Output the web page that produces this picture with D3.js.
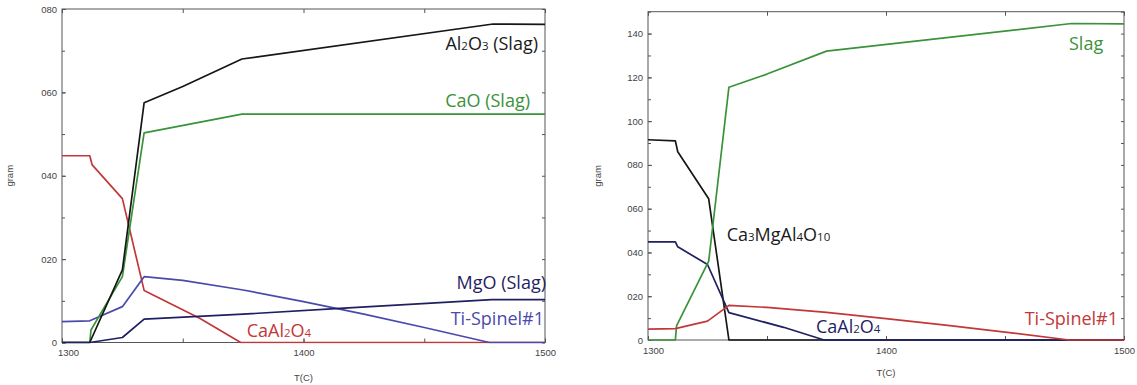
<!DOCTYPE html>
<html>
<head>
<meta charset="utf-8">
<script src="https://cdn.jsdelivr.net/npm/d3@7"></script>
<style>
  html, body { margin: 0; padding: 0; background: #fff; }
  svg { display: block; }
  .tick text { font-family: "Liberation Sans", Arial, sans-serif; font-size: 9.5px; fill: #444; }
  .tick line { stroke: #555; }
  .lbl { font-family: "Open Sans", "Noto Sans", sans-serif; font-size: 18px; }
  .axis-title { font-family: "Liberation Sans", Arial, sans-serif; font-size: 9.5px; fill: #444; }
</style>
</head>
<body>
<svg id="chart" width="1137" height="385"></svg>
<script>
// ---- Left panel: slag components and solid phases, gram vs T(C) ----
const tempAl2O3   = [1300, 1311.5, 1325, 1334, 1350, 1374.5, 1478.5, 1500];
const al2o3Slag   = [0, 0, 17.4, 57.5, 61.4, 68.0, 76.4, 76.3];

const tempCaO     = [1300, 1311.5, 1312, 1325, 1334, 1374.5, 1500];
const caoSlag     = [0, 0, 3.0, 15.8, 50.3, 54.8, 54.8];

const tempMgO     = [1300, 1311.5, 1325, 1334, 1375, 1415, 1478, 1500];
const mgoSlag     = [0, 0, 1.2, 5.6, 6.8, 8.2, 10.3, 10.3];

const tempCaAl2O4 = [1300, 1311.5, 1312.5, 1325, 1334, 1357, 1374, 1500];
const caAl2O4     = [44.8, 44.8, 42.6, 34.5, 12.5, 5.8, 0, 0];

const tempSpinel  = [1300, 1311.5, 1325, 1334, 1350, 1375, 1400, 1425, 1450, 1477, 1500];
const tiSpinel    = [5.0, 5.2, 8.6, 15.8, 14.9, 12.6, 9.8, 6.8, 3.6, 0, 0];

// ---- Right panel: phase amounts, gram vs T(C) ----
const tempSlag    = [1300, 1311.5, 1312, 1325.5, 1334, 1350, 1375, 1478, 1500];
const slagTotal   = [0, 0, 6.5, 36.0, 115.5, 121.5, 132.0, 144.6, 144.4];

const tempCa3     = [1300, 1311.5, 1312.5, 1325.5, 1334, 1500];
const ca3MgAl4O10 = [91.5, 91.0, 86.0, 64.5, 0, 0];

// ---- Axis ticks ----
const xTickVals     = [1300, 1400, 1500];
const xTickLabels   = ["1300", "1400", "1500"];
const xMinorVals    = [1300, 1350, 1400, 1450, 1500];
const leftYVals     = [0, 20, 40, 60, 80];
const leftYLabels   = ["0", "020", "040", "060", "080"];
const leftYMinor    = [0, 10, 20, 30, 40, 50, 60, 70, 80];
const rightYVals    = [0, 20, 40, 60, 80, 100, 120, 140];
const rightYLabels  = ["0", "020", "040", "060", "080", "100", "120", "140"];
const rightYMinor   = [0, 10, 20, 30, 40, 50, 60, 70, 80, 90, 100, 110, 120, 130, 140, 150];

const C = {
  black: "#161616",
  green: "#3a923a",
  red:   "#c23838",
  navy:  "#1f1f62",
  blue:  "#4a4aac"
};

const zip = (xs, ys) => xs.map((x, i) => [x, ys[i]]);
const svg = d3.select("#chart");

function panel(cfg) {
  const g = svg.append("g").attr("transform", `translate(${cfg.x0},${cfg.y0})`);
  const x = d3.scaleLinear().domain([1300, 1500]).range([0, cfg.w]);
  const y = d3.scaleLinear().domain(cfg.yDomain).range([cfg.h, 0]);

  // minor ticks (all four sides, pointing inward)
  const minor = (axis, tr) => g.append("g").attr("transform", tr).call(axis.tickFormat("").tickSizeOuter(0))
    .call(s => s.select(".domain").remove());
  minor(d3.axisLeft(y).tickValues(cfg.yMinor).tickSizeInner(-3), "");
  minor(d3.axisRight(y).tickValues(cfg.yMinor).tickSizeInner(-3), `translate(${cfg.w},0)`);
  minor(d3.axisBottom(x).tickValues(xMinorVals).tickSizeInner(-4), `translate(0,${cfg.h})`);
  minor(d3.axisTop(x).tickValues(xMinorVals).tickSizeInner(-4), "");

  // labelled ticks
  g.append("g")
    .call(d3.axisLeft(y).tickValues(cfg.yVals).tickFormat((d, i) => cfg.yLabels[i])
      .tickSizeInner(-4).tickSizeOuter(0).tickPadding(5))
    .call(s => s.select(".domain").remove());
  const xb = g.append("g").attr("transform", `translate(0,${cfg.h})`)
    .call(d3.axisBottom(x).tickValues(xTickVals).tickFormat((d, i) => xTickLabels[i])
      .tickSizeInner(-4).tickSizeOuter(0).tickPadding(7))
    .call(s => s.select(".domain").remove());
  xb.selectAll(".tick text").filter(d => d === 1300).attr("dx", cfg.firstShift);

  // frame
  g.append("rect").attr("width", cfg.w).attr("height", cfg.h)
    .attr("fill", "none").attr("stroke", "#555").attr("stroke-width", 1);

  // axis titles
  g.append("text").attr("class", "axis-title")
    .attr("transform", `translate(${cfg.gramX},${cfg.h / 2}) rotate(-90)`)
    .attr("text-anchor", "middle").text("gram");
  g.append("text").attr("class", "axis-title")
    .attr("x", cfg.w / 2).attr("y", cfg.h + cfg.tcDy)
    .attr("text-anchor", "middle").text("T(C)");

  const line = d3.line().x(d => x(d[0])).y(d => y(d[1]));
  const clip = "clip" + cfg.id;
  g.append("clipPath").attr("id", clip).append("rect")
    .attr("x", -1).attr("y", -1).attr("width", cfg.w + 2).attr("height", cfg.h + 2);
  const lines = g.append("g").attr("clip-path", `url(#${clip})`);
  cfg.series.forEach(s => {
    lines.append("path").datum(zip(s.t, s.v)).attr("d", line)
      .attr("fill", "none").attr("stroke", s.color).attr("stroke-width", 1.7)
      .attr("stroke-linejoin", "round");
  });

  // series labels with chemical-formula subscripts
  cfg.labels.forEach(l => {
    const t = g.append("text").attr("class", "lbl").attr("x", l.x).attr("y", l.y)
      .attr("fill", l.color).attr("text-anchor", l.anchor || "start");
    l.parts.forEach(p => {
      const ts = t.append("tspan").text(p[0]);
      if (p[1]) ts.attr("font-size", "11.5px");
    });
  });
}

panel({
  id: "L", x0: 62, y0: 9, w: 483, h: 333.5,
  yDomain: [0, 80], yVals: leftYVals, yLabels: leftYLabels, yMinor: leftYMinor,
  firstShift: 6, gramX: -49, tcDy: 38,
  series: [
    { t: tempCaAl2O4, v: caAl2O4,   color: C.red },
    { t: tempSpinel,  v: tiSpinel,  color: C.blue },
    { t: tempCaO,     v: caoSlag,   color: C.green },
    { t: tempAl2O3,   v: al2o3Slag, color: C.black },
    { t: tempMgO,     v: mgoSlag,   color: C.navy }
  ],
  labels: [
    { x: 476, y: 41,  anchor: "end", color: "#1a1a1a", parts: [["Al"], ["2", 1], ["O"], ["3", 1], [" (Slag)"]] },
    { x: 468, y: 97.7, anchor: "end", color: C.green, parts: [["CaO (Slag)"]] },
    { x: 484, y: 279.5, anchor: "end", color: C.navy, parts: [["MgO (Slag)"]] },
    { x: 482, y: 316, anchor: "end", color: C.blue, parts: [["Ti-Spinel#1"]] },
    { x: 184.7, y: 327.7, color: C.red, parts: [["CaAl"], ["2", 1], ["O"], ["4", 1]] }
  ]
});

panel({
  id: "R", x0: 648, y0: 11.7, w: 476, h: 328.3,
  yDomain: [0, 150], yVals: rightYVals, yLabels: rightYLabels, yMinor: rightYMinor,
  firstShift: 5, gramX: -47.3, tcDy: 36,
  series: [
    { t: tempCa3,     v: ca3MgAl4O10, color: C.black },
    { t: tempCaAl2O4, v: caAl2O4,     color: C.navy },
    { t: tempSlag,    v: slagTotal,   color: C.green },
    { t: tempSpinel,  v: tiSpinel,    color: C.red }
  ],
  labels: [
    { x: 421, y: 38.3, color: C.green, parts: [["Slag"]] },
    { x: 78.7, y: 229, color: "#1a1a1a", parts: [["Ca"], ["3", 1], ["MgAl"], ["4", 1], ["O"], ["10", 1]] },
    { x: 168, y: 321.3, color: C.navy, parts: [["CaAl"], ["2", 1], ["O"], ["4", 1]] },
    { x: 470, y: 313.3, anchor: "end", color: C.red, parts: [["Ti-Spinel#1"]] }
  ]
});
</script>
</body>
</html>
